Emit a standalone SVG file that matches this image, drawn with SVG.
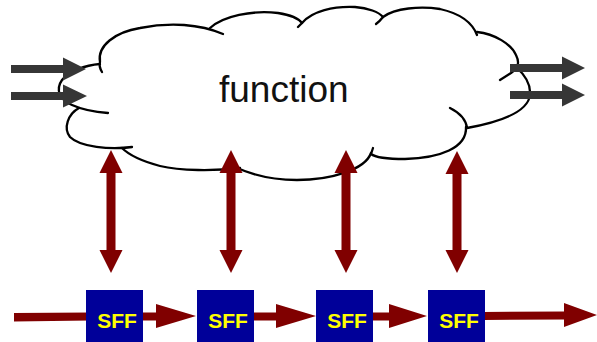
<svg xmlns="http://www.w3.org/2000/svg" width="597" height="342" viewBox="0 0 597 342">
  <style>
    .cloud { fill: none; stroke: #000; stroke-width: 2.3; stroke-linecap: round; stroke-linejoin: round; }
    .io { fill: #363636; }
    .link { fill: #800000; }
    .sff rect { fill: #000099; }
    .sff text { fill: #ffff00; font-family: "Liberation Sans", Arial, sans-serif; font-weight: bold; font-size: 21px; text-anchor: middle; }
    .label { font-family: "Liberation Sans", Arial, sans-serif; font-size: 37px; fill: #111; }
  </style>
  <rect width="597" height="342" fill="#fff"/>

  <!-- cloud outline: one arc per bump, each ending in a short inward tail -->
  <g id="function">
    <path class="cloud" d="M102,72 C99,67 99,65 100,62 C97,46 115,32 140,28 C170,22 200,24 223,34"/>
    <path class="cloud" d="M210,28 C223,16 252,10 278,13 C291,15 299,19 302,23 Q300,25 298,27"/>
    <path class="cloud" d="M302,23 C312,11 334,6 355,7 C368,8 379,12 383,17 Q380,21 376,24"/>
    <path class="cloud" d="M383,17 C395,8 420,6 440,9 C458,13 472,22 477,35"/>
    <path class="cloud" d="M477,32 C495,34 511,44 516,55 C520,63 518,68 511,73 L500,80"/>
    <path class="cloud" d="M516,67 C525,75 531,85 530,95 C528,112 500,122 467,128 C466,120 460,113 450,108"/>
    <path class="cloud" d="M466,127 C467,148 440,158 405,159 C390,159 376,158 371,154 L373,148"/>
    <path class="cloud" d="M371,153 C365,170 330,180 297,180 C270,180 250,174 235,167"/>
    <path class="cloud" d="M240,168 C215,171 180,171 160,166 C145,162 130,156 122,148"/>
    <path class="cloud" d="M79,108 C68,114 63,128 70,137 C80,147 110,150 132,147"/>
    <path class="cloud" d="M100,64 C85,65 68,72 62,80 C55,90 60,100 72,105 C83,110 95,112 108,113"/>
    <text class="label" x="219" y="102">function</text>
  </g>

  <!-- connectors -->
  <g id="connectors">
    <!-- inputs and outputs of the combinational block -->
    <polygon class="io" points="11,65 63,65 63,57.5 86,69 63,80.5 63,73 11,73"/>
    <polygon class="io" points="11,92 63,92 63,84.5 87,96 63,107.5 63,100 11,100"/>
    <polygon class="io" points="510,64 562,64 562,56.5 585,68 562,79.5 562,72 510,72"/>
    <polygon class="io" points="510,91 562,91 562,83.5 585,95 562,106.5 562,99 510,99"/>

    <!-- bidirectional links between the block and each scan flip-flop -->
    <polygon class="link" points="111,150 122.5,173 115.5,173 115.5,250 122.5,250 111,273 99.5,250 106.5,250 106.5,173 99.5,173"/>
    <polygon class="link" points="231,150 242.5,173 235.5,173 235.5,250 242.5,250 231,273 219.5,250 226.5,250 226.5,173 219.5,173"/>
    <polygon class="link" points="346,150 357.5,173 350.5,173 350.5,250 357.5,250 346,273 334.5,250 341.5,250 341.5,173 334.5,173"/>
    <polygon class="link" points="457,151 468.5,174 461.5,174 461.5,250 468.5,250 457,273 445.5,250 452.5,250 452.5,174 445.5,174"/>

    <!-- scan chain -->
    <polygon class="link" points="14,313 90,312.5 90,320.5 14,321.5"/>
    <polygon class="link" points="140,312.5 156,312.5 156,304 196,316 156,328 156,320.5 140,320.5"/>
    <polygon class="link" points="252,312.5 276,312.5 276,304 316,316 276,328 276,320.5 252,320.5"/>
    <polygon class="link" points="371,312.5 389,312.5 389,304 427,316 389,328 389,320.5 371,320.5"/>
    <polygon class="link" points="483,312 564,311.5 564,303 597,315 564,327 564,319.5 483,320"/>
  </g>

  <!-- scan flip-flops -->
  <g id="sff1" class="sff"><rect x="86" y="290" width="57" height="52"/><text x="117" y="328">SFF</text></g>
  <g id="sff2" class="sff"><rect x="197" y="290" width="57" height="52"/><text x="228" y="328">SFF</text></g>
  <g id="sff3" class="sff"><rect x="316" y="290" width="57" height="52"/><text x="347" y="328">SFF</text></g>
  <g id="sff4" class="sff"><rect x="428" y="290" width="57" height="52"/><text x="459" y="328">SFF</text></g>
</svg>
